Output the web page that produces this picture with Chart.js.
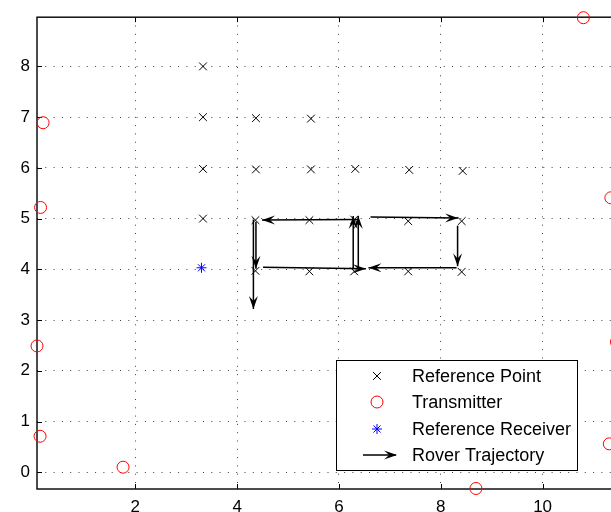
<!DOCTYPE html>
<html>
<head>
<meta charset="utf-8">
<script src="https://cdn.jsdelivr.net/npm/chart.js@4"></script>
<style>
  html, body { margin: 0; padding: 0; background: #fff; overflow: hidden; }
  #wrap { width: 611px; height: 512px; overflow: hidden; }
</style>
</head>
<body>
<div id="wrap"><canvas id="chart" width="640" height="512"></canvas></div>
<script>
// axis ticks
const xTicks = [2, 4, 6, 8, 10];
const yTicks = [0, 1, 2, 3, 4, 5, 6, 7, 8];

// reference points (x markers)
const refPointX = [3.33, 3.33, 3.33, 3.33, 4.37, 5.45, 4.37, 5.45, 6.32, 7.38, 8.43,
                   4.36, 5.42, 6.30, 7.36, 8.41, 4.36, 5.42, 6.30, 7.36, 8.41];
const refPointY = [8.00, 7.00, 5.98, 5.00, 6.98, 6.97, 5.97, 5.97, 5.98, 5.96, 5.94,
                   4.97, 4.97, 4.98, 4.95, 4.95, 3.97, 3.96, 3.96, 3.96, 3.95];

// transmitters (red circles)
const transmitterX = [0.19, 0.14, 0.07, 0.13, 1.76, 8.69, 10.80, 11.34, 11.45, 11.31];
const transmitterY = [6.89, 5.22, 2.49, 0.71, 0.10, -0.32, 8.96, 5.41, 2.57, 0.56];

// reference receiver (blue star)
const receiverX = [3.30];
const receiverY = [4.03];

// rover trajectory arrows, start -> end
const roverStartX = [6.36, 4.37, 4.51, 6.28, 6.38, 6.62, 8.33, 8.31, 4.32];
const roverStartY = [4.98, 4.94, 4.04, 4.00, 4.00, 5.03, 4.86, 4.03, 4.98];
const roverEndX   = [4.49, 4.37, 6.53, 6.28, 6.38, 8.34, 8.33, 6.58, 4.32];
const roverEndY   = [4.97, 4.01, 4.01, 5.05, 5.05, 5.01, 4.06, 4.03, 3.22];

const FONT = '"Liberation Sans", Arial, Helvetica, sans-serif';

function toPoints(xs, ys) {
  return xs.map((x, i) => ({ x: x, y: ys[i] }));
}

function roverSegments() {
  const pts = [];
  roverStartX.forEach((x, i) => {
    pts.push({ x: x, y: roverStartY[i] });
    pts.push({ x: roverEndX[i], y: roverEndY[i] });
    pts.push({ x: roverEndX[i], y: null });
  });
  return pts;
}

function arrowHead(ctx, x0, y0, x1, y1, len, half) {
  const ang = Math.atan2(y1 - y0, x1 - x0);
  const c = Math.cos(ang), s = Math.sin(ang);
  ctx.beginPath();
  ctx.moveTo(x1, y1);
  ctx.lineTo(x1 - len * c + half * s, y1 - len * s - half * c);
  ctx.lineTo(x1 - len * 0.6 * c, y1 - len * 0.6 * s);
  ctx.lineTo(x1 - len * c - half * s, y1 - len * s + half * c);
  ctx.closePath();
  ctx.fill();
}

// axes box and inward ticks, like matlab
const frame = {
  id: 'frame',
  beforeDatasetsDraw(chart) {
    const { ctx, chartArea: a, scales } = chart;
    ctx.save();
    ctx.strokeStyle = '#000';
    ctx.lineWidth = 1;
    ctx.beginPath();
    xTicks.forEach(v => {
      const px = Math.round(scales.x.getPixelForValue(v)) + 0.5;
      ctx.moveTo(px, a.bottom); ctx.lineTo(px, a.bottom - 5);
      ctx.moveTo(px, a.top); ctx.lineTo(px, a.top + 5);
    });
    yTicks.forEach(v => {
      const py = Math.round(scales.y.getPixelForValue(v)) + 0.5;
      ctx.moveTo(a.left, py); ctx.lineTo(a.left + 5, py);
      ctx.moveTo(a.right, py); ctx.lineTo(a.right - 5, py);
    });
    ctx.stroke();
    ctx.lineWidth = 1.5;
    ctx.strokeStyle = '#111';
    ctx.strokeRect(a.left, a.top, a.right - a.left, a.bottom - a.top);
    ctx.restore();
  }
};

// arrow heads for the rover trajectory
const arrows = {
  id: 'arrows',
  afterDatasetsDraw(chart) {
    const { ctx, scales } = chart;
    ctx.save();
    ctx.fillStyle = '#000';
    roverStartX.forEach((x, i) => {
      arrowHead(ctx,
        scales.x.getPixelForValue(x), scales.y.getPixelForValue(roverStartY[i]),
        scales.x.getPixelForValue(roverEndX[i]), scales.y.getPixelForValue(roverEndY[i]),
        13, 4.5);
    });
    ctx.restore();
  }
};

// boxed legend in the lower right
const legendBox = {
  id: 'legendBox',
  afterDraw(chart) {
    const ctx = chart.ctx;
    const left = 336.5, top = 360.5, w = 241, h = 110;
    const rows = [376, 402, 429, 455];
    const markX = 377, textX = 412;
    ctx.save();
    ctx.fillStyle = '#fff';
    ctx.fillRect(left, top, w, h);
    ctx.strokeStyle = '#000';
    ctx.lineWidth = 1;
    ctx.strokeRect(left, top, w, h);
    ctx.font = '18px ' + FONT;
    ctx.textBaseline = 'alphabetic';
    chart.data.datasets.forEach((ds, i) => {
      const y = rows[i];
      if (ds.pointStyle && ds.pointRadius > 0) {
        ctx.strokeStyle = ds.borderColor;
        ctx.fillStyle = 'rgba(0,0,0,0)';
        ctx.lineWidth = ds.borderWidth;
        Chart.helpers.drawPoint(ctx, {
          pointStyle: ds.pointStyle, radius: ds.pointRadius, rotation: 0, borderWidth: ds.borderWidth
        }, markX, y);
      } else {
        ctx.strokeStyle = '#000';
        ctx.fillStyle = '#000';
        ctx.lineWidth = 1.5;
        ctx.beginPath();
        ctx.moveTo(363, y); ctx.lineTo(396, y);
        ctx.stroke();
        arrowHead(ctx, 363, y, 397, y, 13, 4.5);
      }
      ctx.fillStyle = '#000';
      ctx.fillText(ds.label, textX, y + 6);
    });
    ctx.restore();
  }
};

new Chart(document.getElementById('chart'), {
  type: 'scatter',
  data: {
    datasets: [
      {
        label: 'Reference Point',
        data: toPoints(refPointX, refPointY),
        pointStyle: 'crossRot', pointRadius: 5.5, borderColor: '#000', borderWidth: 1,
        backgroundColor: 'rgba(0,0,0,0)', clip: false
      },
      {
        label: 'Transmitter',
        data: toPoints(transmitterX, transmitterY),
        pointStyle: 'circle', pointRadius: 6, borderColor: '#ff0000', borderWidth: 1,
        backgroundColor: 'rgba(0,0,0,0)', clip: false
      },
      {
        label: 'Reference Receiver',
        data: toPoints(receiverX, receiverY),
        pointStyle: 'star', pointRadius: 5, borderColor: '#0000ff', borderWidth: 1,
        backgroundColor: 'rgba(0,0,0,0)', clip: false
      },
      {
        label: 'Rover Trajectory',
        data: roverSegments(),
        showLine: true, spanGaps: false, pointRadius: 0, pointStyle: false,
        borderColor: '#000', borderWidth: 1.5, clip: false
      }
    ]
  },
  options: {
    responsive: false,
    animation: false,
    devicePixelRatio: 1,
    layout: { padding: { top: 15, right: 21, left: 0, bottom: 0 } },
    plugins: { legend: { display: false }, tooltip: { enabled: false } },
    scales: {
      x: {
        type: 'linear', min: 0.07, max: 11.5,
        afterBuildTicks: s => { s.ticks = xTicks.map(v => ({ value: v })); },
        afterFit: s => { s.height = 23; },
        border: { display: false, dash: [1, 7.3] },
        grid: { color: 'rgba(0,0,0,0.75)', lineWidth: 1, drawTicks: false },
        ticks: { color: '#000', padding: 8, font: { family: FONT, size: 17 } }
      },
      y: {
        type: 'linear', min: -0.33, max: 8.97,
        afterBuildTicks: s => { s.ticks = yTicks.map(v => ({ value: v })); },
        afterFit: s => { s.width = 37; },
        border: { display: false, dash: [1, 7.3] },
        grid: { color: 'rgba(0,0,0,0.75)', lineWidth: 1, drawTicks: false },
        ticks: { color: '#000', padding: 7, font: { family: FONT, size: 17 } }
      }
    }
  },
  plugins: [frame, arrows, legendBox]
});
</script>
</body>
</html>
